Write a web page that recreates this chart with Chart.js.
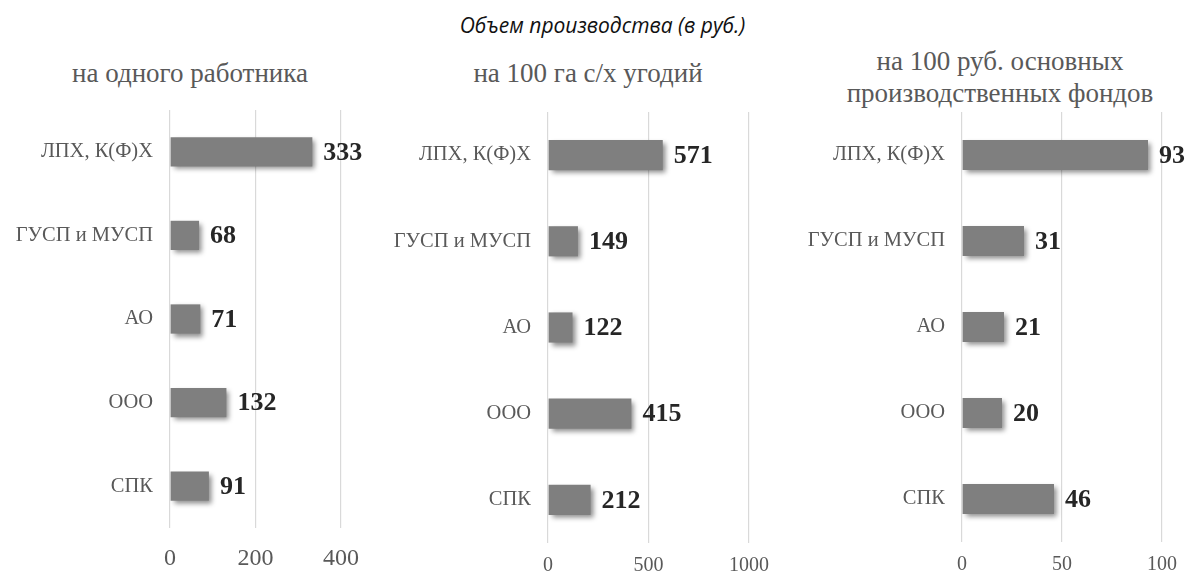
<!DOCTYPE html>
<html>
<head>
<meta charset="utf-8">
<script src="https://cdn.jsdelivr.net/npm/chart.js@4"></script>
<style>
  html, body { margin:0; padding:0; background:#fff; width:1189px; height:573px; overflow:hidden; }
  .box { position:absolute; }
  .title { position:absolute; width:1189px; top:11px; text-align:center; font-family:"Open Sans", sans-serif; font-style:italic; font-size:21px; line-height:28px; color:#111; }
  .sub { position:absolute; text-align:center; font-family:"Liberation Serif", serif; font-size:27px; color:#595959; line-height:32px; white-space:nowrap; }
</style>
</head>
<body>
<div class="title" style="left:8px">Объем производства (в руб.)</div>
<div class="sub" style="left:40px; width:300px; top:57px;">на одного работника</div>
<div class="sub" style="left:438px; width:300px; top:57px;">на 100 га с/х угодий</div>
<div class="sub" style="left:820px; width:360px; top:45px;">на 100 руб. основных<br>производственных фондов</div>

<div class="box" style="left:0px; top:0px; width:386px; height:573px;"><canvas id="c1"></canvas></div>
<div class="box" style="left:390px; top:0px; width:404px; height:573px;"><canvas id="c2"></canvas></div>
<div class="box" style="left:790px; top:0px; width:399px; height:573px;"><canvas id="c3"></canvas></div>

<script>
const categories = ['ЛПХ, К(Ф)Х', 'ГУСП и МУСП', 'АО', 'ООО', 'СПК'];
const perWorker = [333, 68, 71, 132, 91];
const per100ha = [571, 149, 122, 415, 212];
const per100rub = [93, 31, 21, 20, 46];
const ticksWorker = [0, 200, 400];
const ticksHa = [0, 500, 1000];
const ticksRub = [0, 50, 100];

const shadowPlugin = {
  id: 'shadow',
  beforeDatasetsDraw(chart) {
    const ctx = chart.ctx;
    ctx.save();
    ctx.shadowColor = 'rgba(0,0,0,0.45)';
    ctx.shadowBlur = 5;
    ctx.shadowOffsetX = 3;
    ctx.shadowOffsetY = 3;
  },
  afterDatasetsDraw(chart) { chart.ctx.restore(); }
};

const valuePlugin = {
  id: 'values',
  afterDraw(chart) {
    const ctx = chart.ctx;
    const meta = chart.getDatasetMeta(0);
    const data = chart.data.datasets[0].data;
    ctx.save();
    ctx.font = 'bold 26px "Liberation Serif", serif';
    ctx.fillStyle = '#262626';
    ctx.textBaseline = 'middle';
    ctx.textAlign = 'left';
    meta.data.forEach((bar, i) => {
      ctx.fillText(String(data[i]), bar.x + 11, bar.y + 1);
    });
    ctx.restore();
  }
};

function makeChart(id, values, ticks, opts) {
  const tickSet = ticks;
  return new Chart(document.getElementById(id), {
    type: 'bar',
    data: {
      labels: categories,
      datasets: [{
        data: values,
        backgroundColor: '#7f7f7f',
        borderWidth: 0,
        barPercentage: 0.35,
        categoryPercentage: 1.0
      }]
    },
    options: {
      indexAxis: 'y',
      responsive: true,
      maintainAspectRatio: false,
      animation: false,
      layout: { padding: { top: opts.top, right: opts.right, bottom: 0, left: 0 } },
      plugins: { legend: { display: false }, tooltip: { enabled: false }, title: { display: false } },
      scales: {
        x: {
          min: tickSet[0],
          max: tickSet[tickSet.length - 1],
          afterBuildTicks(scale) { scale.ticks = tickSet.map(v => ({ value: v })); },
          afterFit(scale) { scale.height = opts.xh; },
          grid: { color: '#d9d9d9', lineWidth: 1.2, drawTicks: false },
          border: { display: false },
          ticks: {
            padding: opts.tp,
            color: '#595959',
            font: { family: '"Liberation Serif", serif', size: opts.tf },
            callback: (v) => String(v)
          }
        },
        y: {
          afterFit(scale) { scale.width = opts.yw; },
          grid: { display: false, drawTicks: false },
          border: { display: false },
          ticks: {
            padding: 17,
            color: '#595959',
            font: { family: '"Liberation Serif", serif', size: 20.5 }
          }
        }
      }
    },
    plugins: [shadowPlugin, valuePlugin]
  });
}

makeChart('c1', perWorker, ticksWorker, { top: 110, right: 45, yw: 170, xh: 45, tp: 16, tf: 24 });
makeChart('c2', per100ha, ticksHa, { top: 112, right: 45, yw: 158, xh: 30, tp: 11, tf: 20 });
makeChart('c3', per100rub, ticksRub, { top: 112, right: 27, yw: 172, xh: 31, tp: 11, tf: 20 });
</script>
</body>
</html>
